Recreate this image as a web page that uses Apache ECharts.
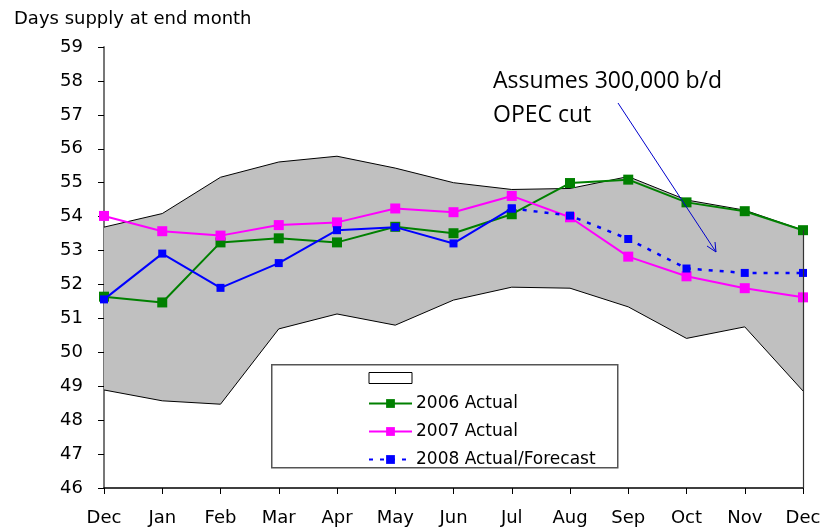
<!DOCTYPE html>
<html>
<head>
<meta charset="utf-8">
<script src="https://cdn.jsdelivr.net/npm/echarts@6/dist/echarts.min.js"></script>
<style>
  html, body { margin: 0; padding: 0; background: #fff; }
  #chart { width: 824px; height: 531px; }
</style>
</head>
<body>
<div id="chart"></div>
<script>
  var months = ['Dec','Jan','Feb','Mar','Apr','May','Jun','Jul','Aug','Sep','Oct','Nov','Dec'];
  // min/max range band
  var bandLow  = [48.89, 48.57, 48.47, 50.69, 51.13, 50.80, 51.54, 51.92, 51.89, 51.34, 50.41, 50.75, 48.86];
  var bandHigh = [53.69, 54.09, 55.16, 55.61, 55.78, 55.43, 55.00, 54.80, 54.83, 55.18, 54.49, 54.19, 53.60];
  var actual2006 = [51.64, 51.47, 53.24, 53.36, 53.24, 53.70, 53.51, 54.07, 54.99, 55.09, 54.42, 54.16, 53.60];
  var actual2007 = [54.02, 53.57, 53.44, 53.75, 53.83, 54.24, 54.13, 54.61, 53.98, 52.82, 52.24, 51.89, 51.62];
  var actual2008 = [51.56, 52.91, 51.90, 52.63, 53.60, 53.69, 53.21, 54.24, null, null, null, null, null];
  var forecast2008 = [null, null, null, null, null, null, null, 54.24, 54.03, 53.34, 52.47, 52.34, 52.34];

  var bandDiff = bandHigh.map(function (v, i) { return +(v - bandLow[i]).toFixed(2); });

  var dom = document.getElementById('chart');
  var myChart = echarts.init(dom);
  var font = 'DejaVu Sans, Liberation Sans, sans-serif';

  var option = {
      animation: false,
      backgroundColor: '#fff',
      grid: { left: 104, right: 21, top: 47, bottom: 43, containLabel: false },
      title: {
          text: 'Days supply at end month',
          left: 9, top: 5,
          textStyle: { fontFamily: font, fontSize: 18, fontWeight: 'normal', color: '#000' }
      },
      graphic: [
          {
              type: 'rect', left: 271, top: 364, z: 90,
              shape: { width: 346, height: 103 },
              style: { fill: '#fff', stroke: '#555', lineWidth: 1.5 }
          },
          {
              type: 'text', left: 493, top: 64, z: 100,
              style: { text: 'Assumes 300,000 b/d\nOPEC cut', fontFamily: 'Open Sans', fontSize: 23, lineHeight: 34, fill: '#000' }
          },
          {
              type: 'line', z: 100,
              shape: { x1: 618, y1: 103, x2: 716, y2: 252 },
              style: { stroke: '#0000cc', lineWidth: 1 }
          },
          {
              type: 'polyline', z: 100,
              shape: { points: [[707, 246], [716, 252], [715, 242]] },
              style: { stroke: '#0000cc', lineWidth: 1, fill: null }
          }
      ],
      legend: {
          orient: 'vertical',
          left: 363, top: 367,
          z: 95,
          itemWidth: 43, itemHeight: 11,
          itemGap: 11,
          selectedMode: false,
          textStyle: { fontFamily: font, fontSize: 17, lineHeight: 15, color: '#000', padding: [0, 0, 0, -1] },
          formatter: function (name) { return name === 'band' ? '' : name; },
          data: [
              { name: 'band', icon: 'rect', itemStyle: { color: '#fff', borderColor: '#000', borderWidth: 1 } },
              '2006 Actual', '2007 Actual', '2008 Actual/Forecast'
          ]
      },
      xAxis: {
          type: 'category',
          data: months,
          boundaryGap: false,
          axisLine: { lineStyle: { color: '#000', width: 1.5 } },
          axisTick: { alignWithLabel: true, length: 6, lineStyle: { color: '#000' } },
          axisLabel: { fontFamily: font, fontSize: 18, color: '#000', margin: 21 },
          splitLine: { show: false }
      },
      yAxis: {
          type: 'value',
          min: 46, max: 59, interval: 1,
          axisLine: { show: true, lineStyle: { color: '#777', width: 2 } },
          axisTick: { show: true, length: 6, lineStyle: { color: '#000' } },
          axisLabel: { fontFamily: font, fontSize: 18, color: '#000', margin: 21 },
          splitLine: { show: false }
      },
      series: [
          {
              name: 'bandLow', type: 'line', stack: 'band',
              data: bandLow, symbol: 'none',
              lineStyle: { color: '#000', width: 1 },
              z: 1
          },
          {
              name: 'band', type: 'line', stack: 'band',
              data: bandDiff, symbol: 'none',
              itemStyle: { color: '#fff', borderColor: '#000' },
              lineStyle: { color: '#000', width: 1 },
              areaStyle: { color: '#c0c0c0', opacity: 1 },
              markLine: {
                  silent: true, symbol: 'none',
                  lineStyle: { color: '#333', width: 1.2, type: 'solid' },
                  label: { show: false },
                  data: [[ { coord: [12, 46] }, { coord: [12, bandHigh[12]] } ]]
              },
              z: 1
          },
          {
              name: '2006 Actual', type: 'line',
              data: actual2006,
              symbol: 'rect', symbolSize: 10,
              itemStyle: { color: '#008000' },
              lineStyle: { color: '#008000', width: 2 },
              z: 3
          },
          {
              name: '2007 Actual', type: 'line',
              data: actual2007,
              symbol: 'rect', symbolSize: 10,
              itemStyle: { color: '#ff00ff' },
              lineStyle: { color: '#ff00ff', width: 2 },
              z: 3
          },
          {
              name: '2008 Actual', type: 'line',
              data: actual2008,
              symbol: 'rect', symbolSize: 8,
              itemStyle: { color: '#0000ff' },
              lineStyle: { color: '#0000ff', width: 2 },
              z: 4
          },
          {
              name: '2008 Actual/Forecast', type: 'line',
              data: forecast2008,
              symbol: 'rect', symbolSize: 8,
              itemStyle: { color: '#0000ff' },
              lineStyle: { color: '#0000ff', width: 2.5, type: [4, 7] },
              z: 4
          }
      ]
  };
  myChart.setOption(option, true);
</script>
</body>
</html>
